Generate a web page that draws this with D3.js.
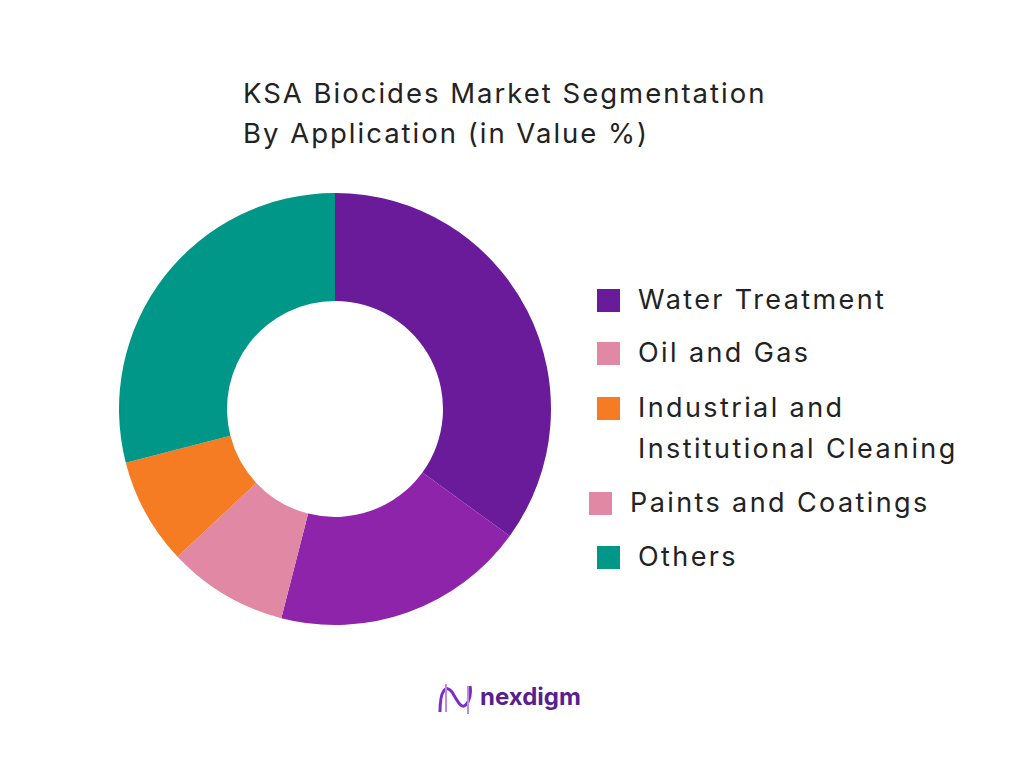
<!DOCTYPE html>
<html><head><meta charset="utf-8">
<script src="https://cdn.jsdelivr.net/npm/d3@7"></script>
<style>body{margin:0;background:#fff}</style></head>
<body><svg id="c" width="1024" height="768"></svg>
<script>
const sliceLabels = ["Water Treatment","Oil and Gas","Industrial and Institutional Cleaning","Paints and Coatings","Others"];
const sliceValues = [35,19,9,8,29];
const sliceColors = ["#6a1b9a","#8e24aa","#e088a4","#f57c22","#009688"];
const legendLabels = [["Water Treatment"],["Oil and Gas"],["Industrial and","Institutional Cleaning"],["Paints and Coatings"],["Others"]];
const legendColors = ["#6a1b9a","#e088a4","#f57c22","#e088a4","#009688"];
const legendY = [300,353,408,503,557];
const legendX = [597,597,597,589,597];

const svg = d3.select("#c");
const font = "Inter, 'Open Sans', sans-serif";
svg.append("text").attr("x",243).attr("y",103).attr("font-family",font).attr("font-size",27.5).attr("letter-spacing",2).attr("fill","#222").text("KSA Biocides Market Segmentation");
svg.append("text").attr("x",243).attr("y",143).attr("font-family",font).attr("font-size",27.5).attr("letter-spacing",2).attr("fill","#222").text("By Application (in Value %)");

const pie = d3.pie().sort(null).value(d=>d);
const arc = d3.arc().innerRadius(108).outerRadius(216);
svg.append("g").attr("transform","translate(335,409)")
  .selectAll("path").data(pie(sliceValues)).join("path")
  .attr("d",arc).attr("fill",(d,i)=>sliceColors[i]);

const lg = svg.append("g");
legendLabels.forEach((lines,i)=>{
  lg.append("rect").attr("x",legendX[i]).attr("y",legendY[i]-11).attr("width",23).attr("height",23).attr("fill",legendColors[i]);
  lines.forEach((t,j)=>{
    lg.append("text").attr("x",legendX[i]+41).attr("y",legendY[i]+9+j*41)
      .attr("font-family",font).attr("font-size",27).attr("letter-spacing",2.4).attr("fill","#222").text(t);
  });
});

// logo
const logo = svg.append("g");
logo.append("path").attr("d","M440,712 C440,690 446,684 452,692 C458,702 462,712 468,702 C472,694 470,686 470,686")
  .attr("fill","none").attr("stroke","#7b2fbf").attr("stroke-width",3);
logo.append("path").attr("d","M446,684 L446,712 M468,686 L468,714").attr("stroke","#c08ae0").attr("stroke-width",2);
logo.append("text").attr("x",480).attr("y",705).attr("font-family",font).attr("font-weight",700).attr("font-size",24).attr("fill","#5a1f8f").text("nexdigm");
</script></body></html>
